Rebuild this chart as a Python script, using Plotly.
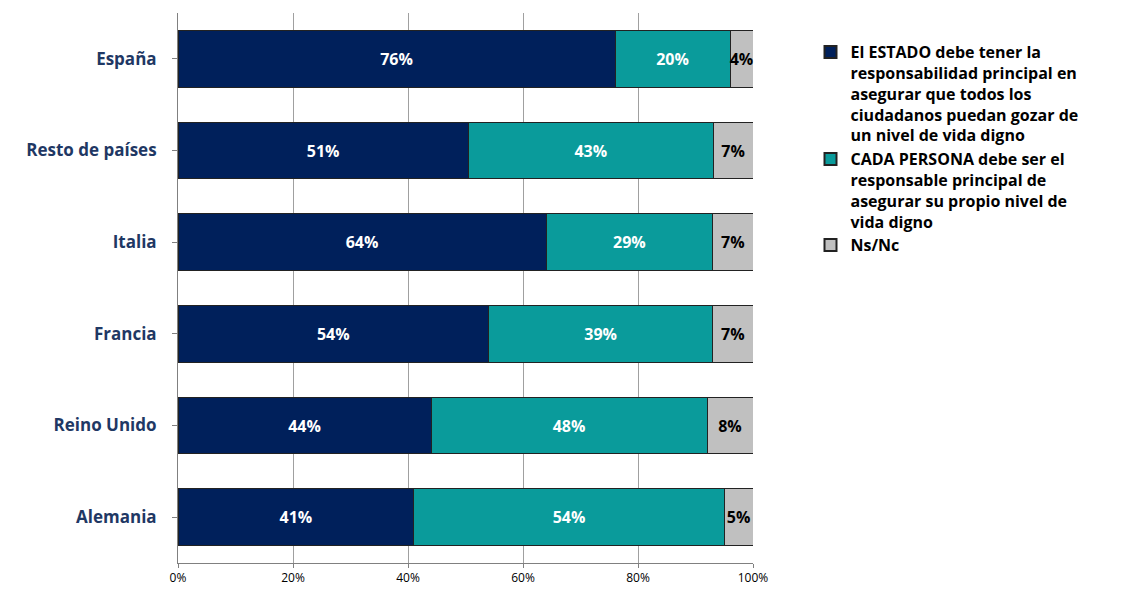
import plotly.graph_objects as go

paises = ["España", "Resto de países", "Italia", "Francia", "Reino Unido", "Alemania"]
estado = [76, 51, 64, 54, 44, 41]
persona = [20, 43, 29, 39, 48, 54]
nsnc = [4, 7, 7, 7, 8, 5]

series = [
    ("El ESTADO debe tener la<br>responsabilidad principal en<br>asegurar que todos los<br>ciudadanos puedan gozar de<br>un nivel de vida digno", estado, "#00205b", "white"),
    ("CADA PERSONA debe ser el<br>responsable principal de<br>asegurar su propio nivel de<br>vida digno", persona, "#0a9b9b", "white"),
    ("Ns/Nc", nsnc, "#c0c0c0", "black"),
]

fig = go.Figure()
for name, vals, col, tcol in series:
    fig.add_trace(go.Bar(
        y=paises, x=vals, name=name, orientation="h",
        marker=dict(color=col, line=dict(color="#222222", width=1)),
        text=[f"{v}%" for v in vals], textposition="inside", insidetextanchor="middle",
        textangle=0,
        textfont=dict(color=tcol, size=16, family="Open Sans", weight="bold"),
        constraintext="none", cliponaxis=False,
    ))

fig.update_layout(
    barmode="stack", barnorm="percent", bargap=0.38,
    width=1126, height=614, plot_bgcolor="white", paper_bgcolor="white",
    margin=dict(l=170, r=381, t=5, b=59),
    font=dict(family="Open Sans", color="#1f3864"),
    legend=dict(x=1.1, y=0.96, yanchor="top", traceorder="normal", valign="top",
                font=dict(size=16, color="black", weight="bold"), itemsizing="constant",
                tracegroupgap=22),
    uniformtext=dict(mode="show", minsize=10),
)
fig.update_xaxes(range=[0, 100], tickvals=[0, 20, 40, 60, 80, 100],
                 ticktext=["0%", "20%", "40%", "60%", "80%", "100%"],
                 showgrid=True, gridcolor="#a0a0a0", gridwidth=1,
                 tickfont=dict(size=12, color="black"), zeroline=False,
                 showline=True, linecolor="#808080", mirror=False, ticks="outside",
                 ticklen=4, tickcolor="#808080")
fig.update_yaxes(autorange="reversed",
                 tickfont=dict(size=17, color="#1f3864", family="Open Sans", weight="bold"),
                 showline=True, linecolor="#808080", ticks="outside", tickcolor="#808080",
                 ticklen=5, ticklabelstandoff=12)
for i, tr in enumerate(fig.data):
    tr.legendgroup = str(i)
fig.write_html("out.html")
